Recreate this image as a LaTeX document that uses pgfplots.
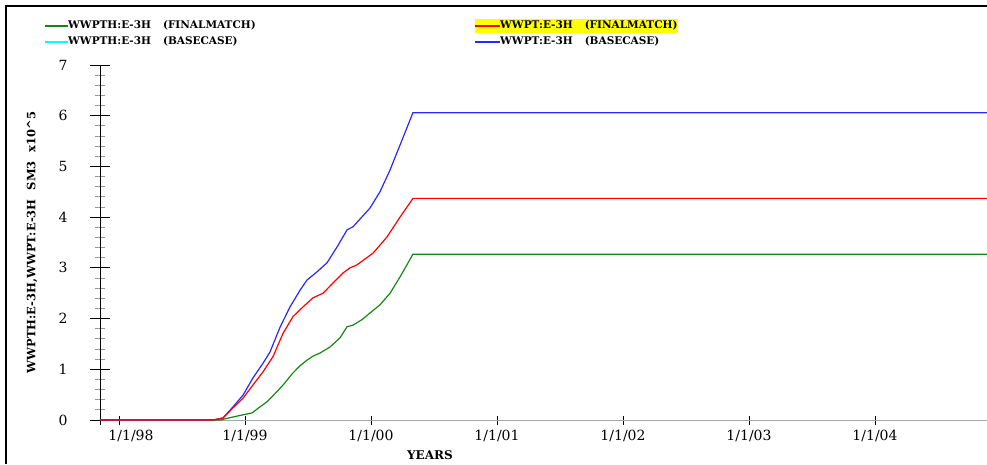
\documentclass[border=0pt]{standalone}
\usepackage{pgfplots}
\pgfplotsset{compat=1.18}
\usepackage{fontspec}
\setmainfont{DejaVu Serif}

\definecolor{fmgreen}{RGB}{20,135,20}
\definecolor{fmred}{RGB}{255,0,0}
\definecolor{bcblue}{RGB}{40,40,255}
\definecolor{bccyan}{RGB}{0,255,255}
\definecolor{hlyellow}{RGB}{255,255,0}

\pgfplotsset{
  frame/.style={
    at={(0pt,0pt)}, anchor=origin,
    scale only axis,
    width=887pt, height=355pt,
    xmin=1997.849, xmax=2004.889,
    ymin=0, ymax=7,
    tick align=outside,
    /pgf/number format/assume math mode=true,
  },
}
\tikzset{
  keytext/.style={anchor=west, inner xsep=0pt, inner ysep=0pt, text height=10pt, text depth=4pt,
    font=\bfseries\fontsize{10.5}{10.5}\selectfont},
  keyline/.style={line width=1.3pt},
}

\begin{document}
\begin{tikzpicture}
\useasboundingbox (-100pt,-44pt) rectangle (887pt,420pt);
% page frame
\draw[line width=2.5pt, black] (-94pt,-44pt) -- (-94pt,414pt) -- (887pt,414pt);

% series key above the plot
\fill[hlyellow] (375pt,387pt) rectangle (400pt,401pt);
\draw[keyline, fmgreen] (-55pt,394pt) -- (-32pt,394pt);
\draw[keyline, fmred]   (375pt,394pt) -- (400pt,394pt);
\draw[keyline, bccyan]  (-55pt,378pt) -- (-32pt,378pt);
\draw[keyline, bcblue]  (375pt,378pt) -- (400pt,378pt);
\node[keytext] at (-32pt,394pt) {WWPTH:E-3H\hspace*{12pt}(FINALMATCH)};
\node[keytext, fill=hlyellow] at (400pt,394pt) {WWPT:E-3H\hspace*{12pt}(FINALMATCH)};
\node[keytext] at (-32pt,378pt) {WWPTH:E-3H\hspace*{12pt}(BASECASE)};
\node[keytext] at (400pt,378pt) {WWPT:E-3H\hspace*{12pt}(BASECASE)};

% time axis
\begin{axis}[
  frame,
  axis x line=bottom, axis y line=none,
  x axis line style={-, draw=black!35, line width=0.9pt},
  xtick={1998,1999,2000,2001,2002,2003,2004},
  xticklabels={\hspace*{24pt}1/1/98,1/1/99,1/1/00,1/1/01,1/1/02,1/1/03,1/1/04},
  extra x ticks={1997.849}, extra x tick labels={},
  major tick length=9pt,
  x tick style={black, line width=0.9pt},
  xticklabel style={font=\fontsize{14}{14}\selectfont, yshift=-2pt},
  xlabel={\bfseries YEARS},
  xlabel style={font=\fontsize{12}{12}\selectfont, at={(axis description cs:0.372,-0.0986)}, anchor=center},
]
\end{axis}

% volume axis with the curves
\begin{axis}[
  frame,
  axis x line=none, axis y line=left,
  y axis line style={-, draw=black, line width=0.9pt},
  ytick={0,1,...,7},
  minor y tick num=4,
  major tick length=20pt,
  minor tick length=10pt,
  y tick style={line width=0.9pt},
  major y tick style={black},
  minor y tick style={black!40},
  yticklabel style={font=\fontsize{14}{14}\selectfont, xshift=-19pt},
  ylabel={\bfseries WWPTH:E-3H,WWPT:E-3H\hspace{9pt}SM3\hspace{9pt}x10\textasciicircum 5},
  ylabel style={font=\fontsize{11.5}{11.5}\selectfont, at={(axis description cs:-0.0767,0.5)}, anchor=center},
  every axis plot/.append style={line width=1.2pt},
]
% WWPTH:E-3H (FINALMATCH)
\addplot[fmgreen] coordinates {
(1997.849,0) (1998.802,0) (1998.905,0.06) (1999.056,0.14) (1999.119,0.26)
(1999.175,0.36) (1999.238,0.52) (1999.302,0.69) (1999.381,0.93) (1999.437,1.07)
(1999.492,1.18) (1999.540,1.26) (1999.595,1.32) (1999.675,1.44) (1999.754,1.62)
(1999.810,1.84) (1999.857,1.87) (1999.929,1.98) (1999.992,2.11) (2000.071,2.27)
(2000.151,2.50) (2000.230,2.82) (2000.333,3.27) (2004.889,3.27)};
% WWPT:E-3H (BASECASE)
\addplot[bcblue] coordinates {
(1997.849,0) (1998.746,0) (1998.825,0.04) (1998.905,0.26) (1998.984,0.49)
(1999.063,0.83) (1999.143,1.12) (1999.198,1.34) (1999.278,1.83) (1999.357,2.23)
(1999.437,2.56) (1999.492,2.76) (1999.571,2.92) (1999.651,3.10) (1999.730,3.41)
(1999.810,3.75) (1999.857,3.81) (1999.992,4.18) (2000.071,4.50) (2000.151,4.93)
(2000.230,5.42) (2000.333,6.06) (2004.889,6.06)};
% WWPT:E-3H (FINALMATCH)
\addplot[fmred] coordinates {
(1997.849,0) (1998.746,0) (1998.825,0.04) (1998.905,0.24) (1998.984,0.43)
(1999.063,0.69) (1999.143,0.95) (1999.222,1.25) (1999.302,1.71) (1999.381,2.04)
(1999.460,2.23) (1999.540,2.41) (1999.619,2.50) (1999.698,2.70) (1999.778,2.90)
(1999.833,3.00) (1999.889,3.06) (2000.016,3.29) (2000.127,3.61) (2000.230,4.00)
(2000.333,4.37) (2004.889,4.37)};
\end{axis}
\end{tikzpicture}
\end{document}
